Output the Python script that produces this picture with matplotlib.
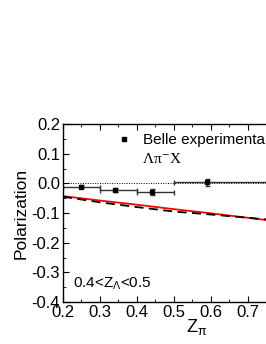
import matplotlib
matplotlib.use("Agg")
import matplotlib.pyplot as plt
from matplotlib.lines import Line2D
from matplotlib.ticker import MultipleLocator

plt.rcParams['font.family'] = ['Liberation Sans', 'DejaVu Sans']
plt.rcParams['mathtext.fontset'] = 'custom'
plt.rcParams['mathtext.rm'] = 'Liberation Sans'
plt.rcParams['mathtext.it'] = 'Liberation Sans'
plt.rcParams['mathtext.sf'] = 'Liberation Sans'

# Belle data
z_data = [0.25, 0.34, 0.44, 0.59]
p_data = [-0.011, -0.022, -0.029, 0.003]
x_lo = [0.05, 0.04, 0.04, 0.09]
x_hi = [0.05, 0.06, 0.06, 0.41]
p_err = [0.005, 0.007, 0.010, 0.012]

# model curves
z_curve = [0.2, 0.3, 0.4, 0.5, 0.6, 0.7, 0.8]
p_red = [-0.043, -0.058, -0.072, -0.087, -0.101, -0.116, -0.131]
p_dash = [-0.045, -0.064, -0.080, -0.095, -0.105, -0.116, -0.127]

fig = plt.figure(figsize=(2.66, 3.44), dpi=100)
ax = fig.add_axes([63 / 266, 42 / 344, 203 / 266, 178 / 344])

ax.axhline(0, color='black', lw=0.7, ls=(0, (1, 1.5)))
ax.plot(z_curve, p_red, color='red', lw=1.3)
ax.plot(z_curve, p_dash, color='black', lw=1.3, ls=(0, (5, 3)))
ax.errorbar(z_data, p_data, yerr=p_err, xerr=[x_lo, x_hi], fmt='s', ms=3.5,
            color='black', ecolor='#333333', elinewidth=1, capsize=1.8)

ax.set_xlim(0.2, 0.75)
ax.set_ylim(-0.4, 0.2)
ax.xaxis.set_major_locator(MultipleLocator(0.1))
ax.xaxis.set_minor_locator(MultipleLocator(0.05))
ax.yaxis.set_major_locator(MultipleLocator(0.1))
ax.yaxis.set_minor_locator(MultipleLocator(0.05))
ax.tick_params(which='both', direction='in', top=True, right=False, labelsize=12)
ax.tick_params(which='major', length=4, pad=2)
ax.tick_params(which='minor', length=2)
ax.set_xticks([0.2, 0.3, 0.4, 0.5, 0.6, 0.7])
ax.set_xticklabels(['0.2', '0.3', '0.4', '0.5', '0.6', '0.7'])
ax.set_yticklabels([f"{v:.1f}" for v in ax.get_yticks()])
ax.spines['right'].set_visible(False)
for s in ax.spines.values():
    s.set_linewidth(1)

ax.set_ylabel('Polarization', fontsize=12.5, labelpad=2)
ax.set_xlabel(r'Z$_{\pi}$', fontsize=13)
ax.xaxis.set_label_coords(0.66, -0.085)

# legend shows only the square marker; the text runs off the right edge as in the original
handle = Line2D([], [], ls='none', marker='s', ms=3.5, color='black')
ax.legend([handle], ['Belle experimental'], loc='upper left',
          bbox_to_anchor=(0.22, 1.0), frameon=False, fontsize=11,
          handlelength=1, handletextpad=0.7, borderaxespad=0.2)
ax.text(0.415, 0.069, r'Λπ$^{-}$X', fontsize=11,
        family='Liberation Serif', math_fontfamily='stix')
ax.text(0.227, -0.352, r'0.4<Z$_{\Lambda}$<0.5', fontsize=11)

fig.savefig('out.png', dpi=100)
